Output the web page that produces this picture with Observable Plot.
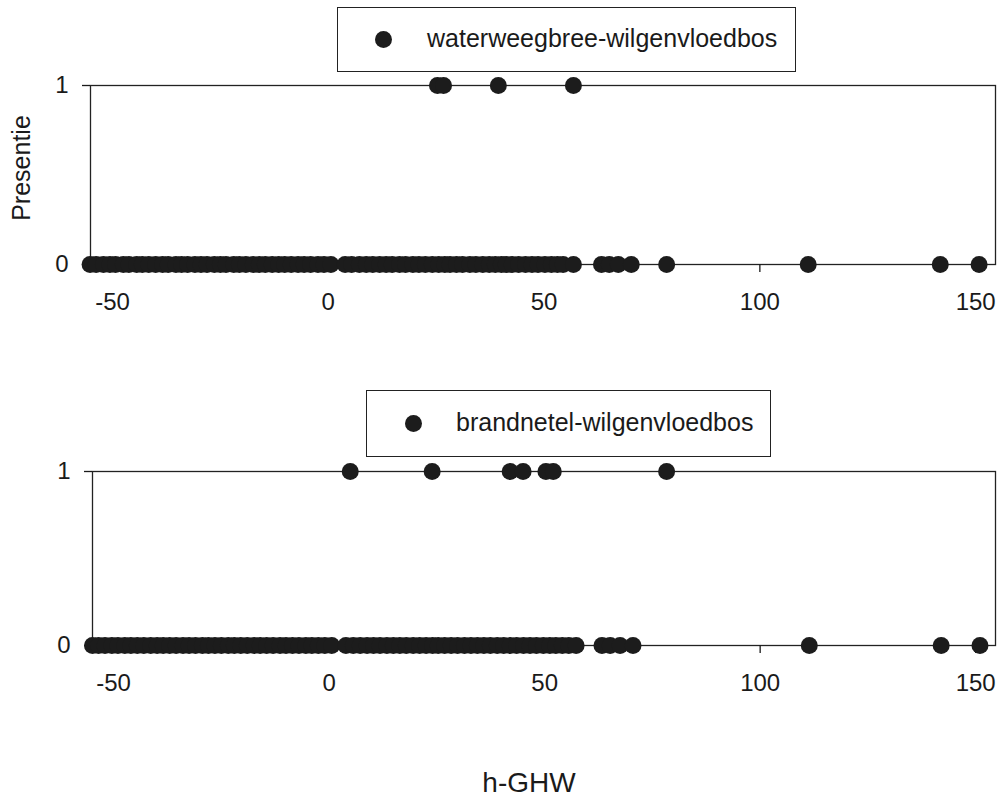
<!DOCTYPE html>
<html>
<head>
<meta charset="utf-8">
<script src="https://cdn.jsdelivr.net/npm/d3@7"></script>
<script src="https://cdn.jsdelivr.net/npm/@observablehq/plot@0.6"></script>
<style>
  html, body { margin: 0; padding: 0; background: #ffffff; }
  #wrap { position: relative; width: 1000px; height: 800px; font-family: "Liberation Sans", Arial, sans-serif; color: #1a1a1a; }
  .panel { position: absolute; left: 0; }
  .legend { position: absolute; border: 1.5px solid #222; box-sizing: border-box; background: #fff; }
  .legend .dot { position: absolute; width: 17px; height: 17px; border-radius: 50%; background: #1c1c1c; }
  .legend .lab { position: absolute; font-size: 25px; line-height: 1; white-space: nowrap; }
  #xlabel { position: absolute; font-size: 28px; line-height: 1; white-space: nowrap; transform: translateX(-50%); }
</style>
</head>
<body>
<div id="wrap">
  <div id="p1" class="panel" style="top:0px"></div>
  <div id="p2" class="panel" style="top:400px"></div>
  <div class="legend" style="left:337px; top:7px; width:459px; height:65px;">
    <div class="dot" style="left:37px; top:23px;"></div>
    <div class="lab" id="leg1" style="left:89px; top:18px;"></div>
  </div>
  <div class="legend" style="left:366px; top:390px; width:405px; height:67px;">
    <div class="dot" style="left:38px; top:24px;"></div>
    <div class="lab" id="leg2" style="left:89px; top:19px;"></div>
  </div>
  <div id="xlabel" style="left:529px; top:769px;"></div>
</div>
<script>
// Panel titles (legend entries)
const speciesTop = "waterweegbree-wilgenvloedbos";
const speciesBottom = "brandnetel-wilgenvloedbos";
const xTicks = [-50, 0, 50, 100, 150];
const yTicks = [0, 1];
const yLabel = "Presentie";
const xLabel = "h-GHW";

// Top panel: h-GHW values of plots where the type is absent (0) / present (1)
const topAbsent = [-55.2,-53.8,-52.1,-50.6,-49.3,-47.5,-46.2,-44.4,-43.1,-41.6,-40.0,-38.4,-37.1,-35.3,-34.0,-32.6,-30.9,-29.5,-28.1,-26.4,-25.0,-23.7,-21.9,-20.6,-19.1,-17.4,-16.0,-14.6,-13.0,-11.5,-10.1,-8.6,-7.0,-5.6,-4.1,-2.4,-1.0,0.6,3.9,5.4,7.2,8.8,10.3,11.9,13.4,14.8,16.5,17.9,19.6,21.0,22.5,24.1,25.6,27.0,28.2,29.7,31.1,32.8,34.2,35.8,37.3,38.7,40.1,41.2,42.6,44.1,45.7,47.2,48.6,50.2,51.7,53.1,54.4,56.8,63.3,65.1,67.2,70.2,78.4,111.2,141.8,150.8];
const topPresent = [25.3, 26.7, 39.4, 56.8];

// Bottom panel
const bottomAbsent = [-54.9,-53.5,-52.0,-50.4,-49.0,-47.4,-46.0,-44.5,-43.0,-41.4,-39.9,-38.5,-37.0,-35.5,-33.9,-32.5,-31.0,-29.4,-28.0,-26.5,-25.0,-23.4,-22.0,-20.5,-19.0,-17.4,-16.0,-14.5,-13.0,-11.4,-10.0,-8.5,-7.0,-5.4,-4.0,-2.5,-1.0,0.6,3.9,5.6,7.2,8.8,10.3,11.8,13.4,14.9,16.4,17.9,19.5,21.0,22.5,24.0,25.3,26.8,28.3,29.8,31.4,32.9,34.4,35.9,37.4,39.0,40.5,42.0,43.5,45.1,46.6,48.1,49.7,51.2,52.6,54.1,55.6,57.3,63.3,65.2,67.5,70.5,111.4,142.0,151.0];
const bottomPresent = [4.9, 23.9, 42.0, 45.0, 50.3, 52.0, 78.3];

const fontStack = "'Liberation Sans', Arial, sans-serif";
const ink = "#1c1c1c";

document.getElementById("leg1").textContent = speciesTop;
document.getElementById("leg2").textContent = speciesBottom;
document.getElementById("xlabel").textContent = xLabel;

function rows(absent, present) {
  return absent.map(x => ({x, y: 0})).concat(present.map(x => ({x, y: 1})));
}

function panel({data, height, marginTop, marginBottom, marginLeft, domain, withYLabel}) {
  const marks = [
    Plot.frame({stroke: "#222", strokeWidth: 1.3}),
    Plot.axisX({ticks: xTicks, tickSize: 8, tickPadding: 20, tickFormat: d => String(d), label: null, fontSize: 24, strokeWidth: 1.3}),
    Plot.axisY({ticks: yTicks, tickSize: 8, tickPadding: 14, tickFormat: d => String(d), label: null, fontSize: 24, strokeWidth: 1.3}),
    Plot.dot(data, {x: "x", y: "y", r: 8.5, fill: ink, stroke: "none"})
  ];
  if (withYLabel) {
    marks.push(Plot.text([yLabel], {text: d => d, frameAnchor: "left", textAnchor: "middle", rotate: -90, dx: -69, dy: -7, fontSize: 25, fill: "#1a1a1a"}));
  }
  return Plot.plot({
    width: 1000,
    height,
    marginTop,
    marginBottom,
    marginLeft,
    marginRight: 5,
    x: {domain},
    y: {domain: [0, 1]},
    style: {fontFamily: fontStack, fontSize: "24px", color: "#1a1a1a", background: "transparent", overflow: "visible"},
    marks
  });
}

document.getElementById("p1").append(panel({
  data: rows(topAbsent, topPresent),
  height: 320, marginTop: 85, marginBottom: 56, marginLeft: 90,
  domain: [-55.1, 154.6], withYLabel: true
}));
document.getElementById("p2").append(panel({
  data: rows(bottomAbsent, bottomPresent),
  height: 300, marginTop: 71, marginBottom: 55, marginLeft: 92,
  domain: [-54.9, 154.6], withYLabel: false
}));
</script>
</body>
</html>
